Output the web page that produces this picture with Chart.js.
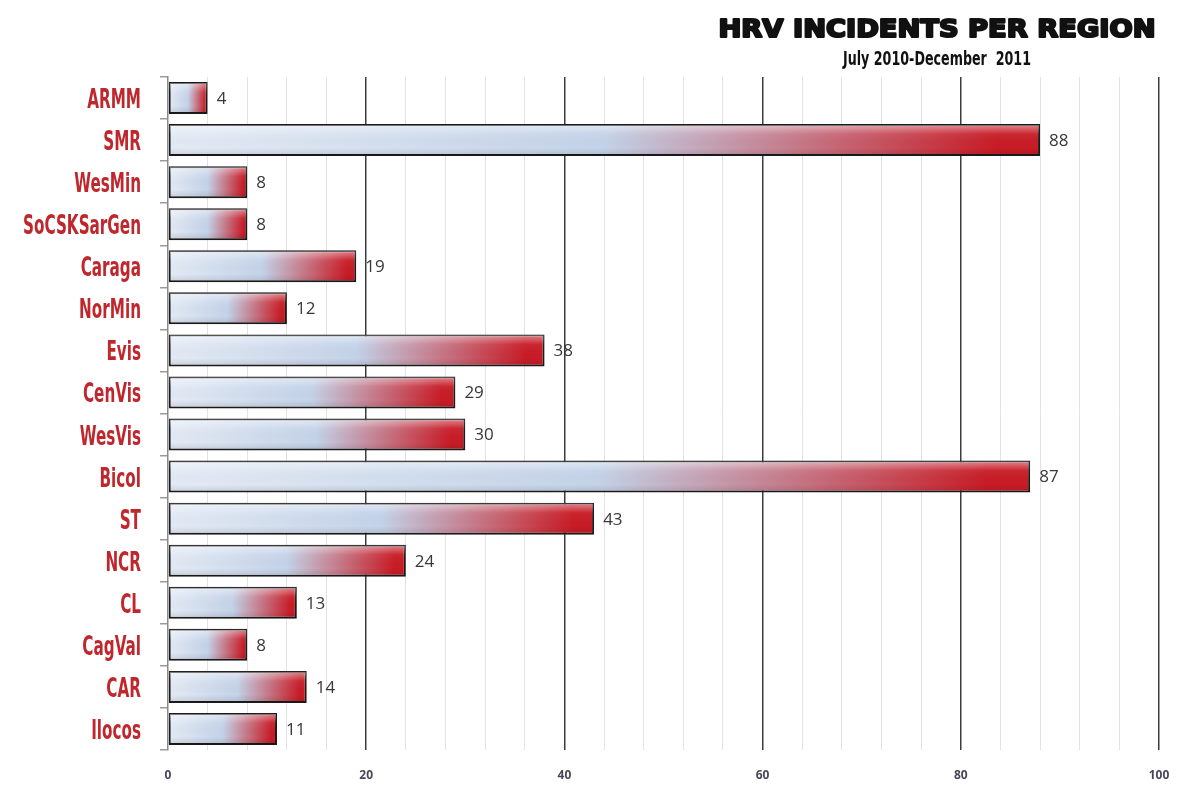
<!DOCTYPE html>
<html>
<head>
<meta charset="utf-8">
<title>HRV incidents per region</title>
<script src="https://cdn.jsdelivr.net/npm/chart.js@4.4.1/dist/chart.umd.min.js"></script>
<style>
  html, body { margin: 0; padding: 0; background: #fff; }
  #wrap { width: 1196px; height: 785px; }
</style>
</head>
<body>
<div id="wrap"><canvas id="chart" width="1196" height="785"></canvas></div>
<script>
// data
const regions = ['ARMM', 'SMR', 'WesMin', 'SoCSKSarGen', 'Caraga', 'NorMin', 'Evis', 'CenVis',
  'WesVis', 'Bicol', 'ST', 'NCR', 'CL', 'CagVal', 'CAR', 'Ilocos'];
const incidents = [4, 88, 8, 8, 19, 12, 38, 29, 30, 87, 43, 24, 13, 8, 14, 11];
const xTickLabels = [0, 20, 40, 60, 80, 100];
const titleText = 'HRV INCIDENTS PER REGION';
const subtitleText = 'July 2010-December  2011';

const LABEL_RED = '#c0272d';
const LABEL_FONT = 'bold 27px "Liberation Sans Narrow", "DejaVu Sans Condensed", sans-serif';

// draws text squeezed/stretched horizontally to a target width
function fitText(ctx, text, x, y, width, stroke) {
  const w = ctx.measureText(text).width;
  const s = width / w;
  ctx.save();
  ctx.translate(x, y);
  ctx.scale(s, 1);
  ctx.textAlign = 'center';
  if (stroke) {
    ctx.lineWidth = stroke;
    ctx.lineJoin = 'round';
    ctx.strokeText(text, 0, 0);
  }
  ctx.fillText(text, 0, 0);
  ctx.restore();
}

const decorPlugin = {
  id: 'decor',
  afterDatasetsDraw(chart) {
    const { ctx } = chart;
    const meta = chart.getDatasetMeta(0);
    const yScale = chart.scales.y;

    // glossy highlight on the bars
    meta.data.forEach((bar) => {
      const top = bar.y - bar.height / 2 + 1;
      const h = bar.height - 2;
      const left = Math.min(bar.base, bar.x) + 1;
      const w = Math.abs(bar.x - bar.base) - 2;
      const g = ctx.createLinearGradient(0, top, 0, top + h);
      g.addColorStop(0, 'rgba(255,255,255,0.45)');
      g.addColorStop(0.3, 'rgba(255,255,255,0.05)');
      g.addColorStop(0.75, 'rgba(0,0,0,0)');
      g.addColorStop(1, 'rgba(0,0,0,0.10)');
      ctx.fillStyle = g;
      ctx.fillRect(left, top, w, h);
    });

    // value labels
    ctx.save();
    ctx.font = '17px "Open Sans", sans-serif';
    ctx.fillStyle = '#383838';
    ctx.textBaseline = 'middle';
    ctx.textAlign = 'left';
    meta.data.forEach((bar, i) => {
      ctx.fillText(String(incidents[i]), bar.x + 9, bar.y + 1);
    });
    ctx.restore();

    // category labels (condensed red)
    ctx.save();
    ctx.font = LABEL_FONT;
    ctx.fillStyle = LABEL_RED;
    ctx.textBaseline = 'alphabetic';
    const sx = 118 / ctx.measureText('SoCSKSarGen').width;
    regions.forEach((r, i) => {
      const y = yScale.getPixelForValue(i);
      ctx.save();
      ctx.translate(141, y + 10);
      ctx.scale(sx, 1);
      ctx.textAlign = 'right';
      ctx.fillText(r, 0, 0);
      ctx.restore();
    });
    ctx.restore();

    // title and subtitle
    ctx.save();
    ctx.fillStyle = '#111';
    ctx.strokeStyle = '#111';
    ctx.textBaseline = 'alphabetic';
    ctx.font = 'bold 25px "DejaVu Sans", sans-serif';
    fitText(ctx, titleText, 937, 37, 437, 2.2);
    ctx.font = 'bold 19px "Liberation Sans Narrow", "DejaVu Sans Condensed", sans-serif';
    fitText(ctx, subtitleText, 937, 65, 188);
    ctx.restore();
  }
};

new Chart(document.getElementById('chart'), {
  type: 'bar',
  data: {
    labels: regions,
    datasets: [{
      data: incidents,
      backgroundColor: (c) => {
        const chart = c.chart;
        if (!chart.chartArea || c.type !== 'data') return '#c5d4ea';
        const x = chart.scales.x;
        const x0 = x.getPixelForValue(0);
        const x1 = x.getPixelForValue(c.raw);
        const g = chart.ctx.createLinearGradient(x0, 0, x1, 0);
        g.addColorStop(0, '#e4ebf5');
        g.addColorStop(0.5, '#c4d3e9');
        g.addColorStop(0.95, '#c81c26');
        g.addColorStop(1, '#c81c26');
        return g;
      },
      borderColor: '#1a1a1a',
      borderWidth: 2,
      borderSkipped: false,
      barPercentage: 0.76,
      categoryPercentage: 1
    }]
  },
  options: {
    indexAxis: 'y',
    responsive: false,
    animation: false,
    layout: { padding: { top: 77, right: 37, left: 0, bottom: 0 } },
    plugins: {
      legend: { display: false },
      tooltip: { enabled: false }
    },
    scales: {
      x: {
        min: 0,
        max: 100,
        afterFit: (scale) => { scale.height = 35; },
        ticks: {
          stepSize: 4,
          autoSkip: false,
          maxRotation: 0,
          padding: 18,
          color: '#4a4658',
          font: { family: '"Open Sans", sans-serif', size: 12, weight: 'bold' },
          callback: (v) => (xTickLabels.includes(v) ? String(v) : '')
        },
        grid: {
          drawTicks: false,
          color: (c) => {
            const v = c.tick.value;
            if (v === 0) return 'rgba(0,0,0,0)';
            return v % 20 === 0 ? '#3c3c3c' : '#e2e2e2';
          },
          lineWidth: (c) => (c.tick.value % 20 === 0 ? 1.5 : 1)
        },
        border: { display: false }
      },
      y: {
        afterFit: (scale) => { scale.width = 168; },
        ticks: { display: false },
        grid: {
          offset: true,
          drawOnChartArea: false,
          tickLength: 8,
          color: '#9a9a9a',
          lineWidth: 1.5
        },
        border: { display: true, color: '#8a8a8a', width: 1.5 }
      }
    }
  },
  plugins: [decorPlugin]
});
</script>
</body>
</html>
